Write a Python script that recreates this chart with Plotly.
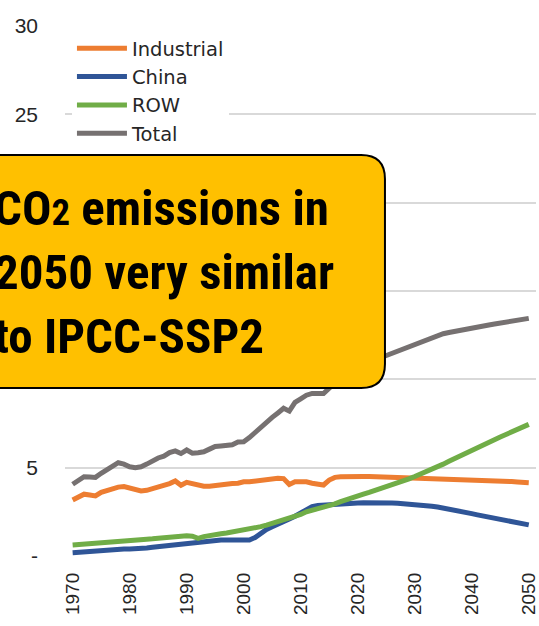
import plotly.graph_objects as go

years = list(range(1970, 2051))

industrial = [3.17, 3.35, 3.50, 3.45, 3.40, 3.60, 3.72, 3.82, 3.90, 3.93,
              3.85, 3.70, 3.68, 3.72, 3.80, 3.90, 3.97, 4.10, 4.25, 4.00,
              4.17, 4.08, 3.98, 3.95, 3.95, 4.00, 4.05, 4.10, 4.10, 4.12,
              4.20, 4.20, 4.25, 4.30, 4.35, 4.40, 4.40, 4.38, 4.05, 4.20,
              4.20, 4.20, 4.12, 4.08, 4.02, 4.30, 4.45, 4.48, 4.50, 4.50,
              4.50, 4.50, 4.50, 4.49, 4.49, 4.48, 4.48, 4.47, 4.47, 4.46,
              4.45, 4.44, 4.43, 4.41, 4.40, 4.40, 4.39, 4.37, 4.36, 4.35,
              4.33, 4.32, 4.30, 4.29, 4.27, 4.25, 4.23, 4.21, 4.19, 4.17,
              4.15]

china = [0.19, 0.22, 0.25, 0.28, 0.30, 0.32, 0.34, 0.36, 0.38, 0.40,
         0.40, 0.40, 0.41, 0.45, 0.49, 0.53, 0.56, 0.60, 0.62, 0.64,
         0.68, 0.72, 0.78, 0.83, 0.87, 0.88, 0.90, 0.90, 0.90, 0.90,
         0.90, 0.90, 1.05, 1.28, 1.50, 1.65, 1.78, 1.92, 2.10, 2.25,
         2.45, 2.68, 2.80, 2.86, 2.89, 2.90, 2.92, 2.94, 2.96, 2.98,
         3.00, 3.02, 3.03, 3.03, 3.03, 3.02, 3.00, 2.99, 2.97, 2.95,
         2.92, 2.89, 2.85, 2.82, 2.77, 2.72, 2.67, 2.60, 2.54, 2.46,
         2.40, 2.33, 2.27, 2.22, 2.16, 2.10, 2.04, 1.97, 1.90, 1.83,
         1.76]

row = [0.62, 0.65, 0.68, 0.72, 0.75, 0.78, 0.80, 0.83, 0.86, 0.88,
       0.90, 0.91, 0.93, 0.95, 0.97, 1.00, 1.04, 1.08, 1.13, 1.15,
       1.15, 1.12, 1.00, 1.10, 1.17, 1.22, 1.26, 1.30, 1.35, 1.40,
       1.47, 1.52, 1.58, 1.66, 1.75, 1.85, 1.94, 2.02, 2.10, 2.22,
       2.35, 2.50, 2.58, 2.65, 2.75, 2.82, 2.95, 3.08, 3.20, 3.30,
       3.40, 3.50, 3.60, 3.70, 3.80, 3.92, 4.03, 4.14, 4.25, 4.37,
       4.50, 4.63, 4.77, 4.90, 5.05, 5.20, 5.36, 5.52, 5.68, 5.84,
       6.00, 6.16, 6.31, 6.46, 6.60, 6.74, 6.88, 7.02, 7.16, 7.30,
       7.45]

total = [4.06, 4.25, 4.49, 4.47, 4.45, 4.68, 4.87, 5.05, 5.28, 5.20,
         5.05, 5.00, 5.05, 5.20, 5.40, 5.55, 5.65, 5.85, 5.95, 5.80,
         6.00, 5.82, 5.85, 5.90, 6.05, 6.20, 6.23, 6.23, 6.30, 6.45,
         6.47, 6.70, 7.00, 7.30, 7.60, 7.85, 8.10, 8.36, 8.20, 8.70,
         8.90, 9.10, 9.20, 9.20, 9.20, 9.50, 9.80, 10.10, 10.35, 10.55,
         10.70, 10.85, 11.00, 11.10, 11.22, 11.35, 11.48, 11.60, 11.72, 11.85,
         11.98, 12.10, 12.22, 12.34, 12.46, 12.58, 12.65, 12.72, 12.79, 12.86,
         12.92, 12.98, 13.03, 13.08, 13.13, 13.18, 13.23, 13.28, 13.33, 13.39,
         13.45]

series_names = ["Industrial", "China", "ROW", "Total"]
series_values = [industrial, china, row, total]
series_colors = ["#ED7D31", "#2F5597", "#70AD47", "#767171"]

y_tickvals = [0, 5, 10, 15, 20, 25, 30]
y_ticktext = ["-", "5", "10", "15", "20", "25", "30"]
x_tickvals = [1970, 1980, 1990, 2000, 2010, 2020, 2030, 2040, 2050]

callout_lines = ["CO<span style='font-size:0.75em'>2</span> emissions in",
                 "2050 very similar",
                 "to IPCC-SSP2"]

W, H = 539, 626
ML, MR, MT, MB = 65, 0, 26, 70
PW, PH = W - ML - MR, H - MT - MB

fig = go.Figure()
for name, vals, col in zip(series_names, series_values, series_colors):
    fig.add_trace(go.Scatter(x=years, y=vals, name=name, mode="lines",
                             line=dict(color=col, width=5)))

def px2paper(X, Y):
    return (X - ML) / PW, (H - MB - Y) / PH

# rounded callout box (pixel geometry converted to paper coords)
x0, x1, y0, y1, r = -40, 387, 155, 388, 24
def P(X, Y):
    a, b = px2paper(X, Y)
    return f"{a:.5f},{b:.5f}"
path = (f"M{P(x0, y0)} L{P(x1 - r, y0)} Q{P(x1, y0)} {P(x1, y0 + r)} "
        f"L{P(x1, y1 - r)} Q{P(x1, y1)} {P(x1 - r, y1)} L{P(x0, y1)} Z")
fig.add_shape(type="path", path=path, xref="paper", yref="paper",
              fillcolor="#FFC000", line=dict(color="black", width=2), layer="above")

for line, cy in zip(callout_lines, [208, 272, 336]):
    tx, ty = px2paper(-8, cy)
    fig.add_annotation(xref="paper", yref="paper", x=tx, y=ty, xanchor="left", yanchor="middle",
                       align="left", showarrow=False,
                       text=f"<span style='font-stretch:75%'>{line}</span>",
                       font=dict(family="Roboto Condensed, Roboto", size=49, color="black",
                                 weight="bold"))

lx, ly = px2paper(72, 29)
fig.update_layout(
    width=W, height=H,
    margin=dict(l=ML, r=MR, t=MT, b=MB),
    paper_bgcolor="white", plot_bgcolor="white",
    font=dict(family="Liberation Sans", color="#404040"),
    showlegend=True,
    legend=dict(x=lx, y=ly, xanchor="left", yanchor="top", bgcolor="white",
                font=dict(size=19.5, color="#262626", family="DejaVu Sans"),
                itemwidth=50, tracegroupgap=0),
    xaxis=dict(range=[1968.66, 2051.27], tickvals=x_tickvals, tickangle=-90,
               showgrid=False, zeroline=False, showline=False, ticks="",
               tickfont=dict(size=19, color="#262626"), ticklabelstandoff=12,
               ticklabeloverflow="allow"),
    yaxis=dict(range=[0, 30], tickvals=y_tickvals, ticktext=y_ticktext,
               showgrid=True, gridcolor="#D9D9D9", gridwidth=1.5, zeroline=False,
               showline=False, ticks="", tickfont=dict(size=21, color="#262626"),
               ticklabelstandoff=26),
)

fig.write_html("out.html", config={"displayModeBar": False},
               post_script="document.body.style.margin='0';")
